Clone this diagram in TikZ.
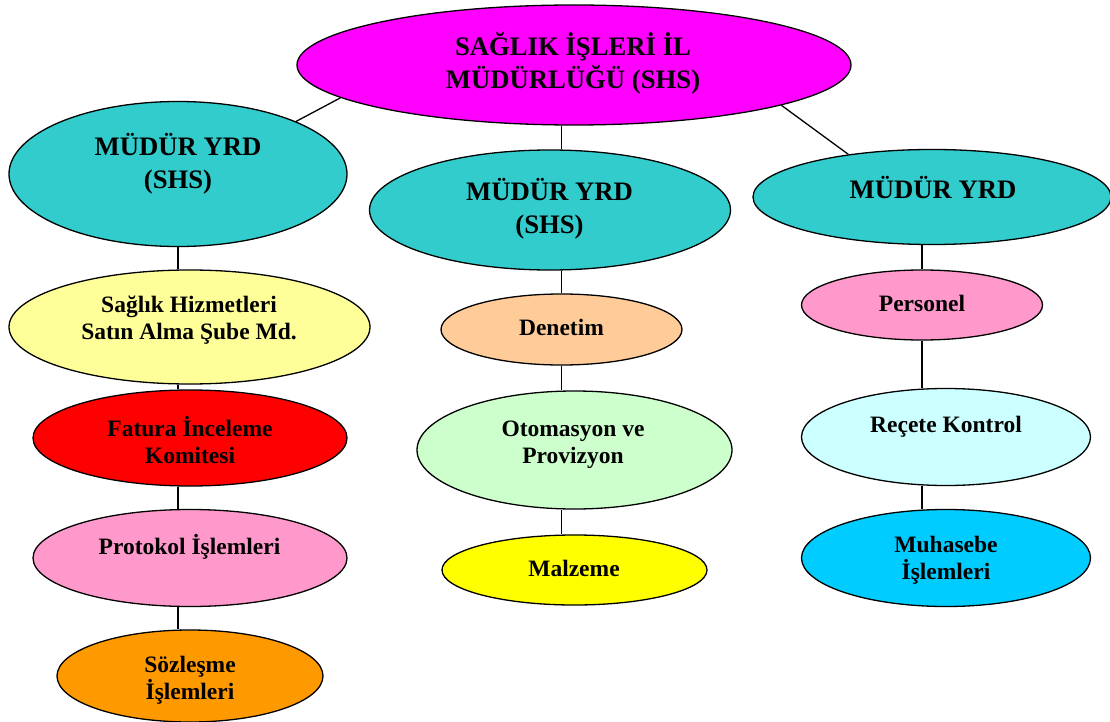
\documentclass[tikz,border=0pt]{standalone}
\usepackage{fontspec}
\setmainfont{Liberation Serif}
\usetikzlibrary{shapes.geometric}
\definecolor{cMag}{HTML}{FF00FF}
\definecolor{cCyan}{HTML}{33CCCC}
\definecolor{cLYel}{HTML}{FFFF99}
\definecolor{cRed}{HTML}{FF0000}
\definecolor{cPink}{HTML}{FF99CC}
\definecolor{cOrange}{HTML}{FF9900}
\definecolor{cPeach}{HTML}{FFCC99}
\definecolor{cLGreen}{HTML}{CCFFCC}
\definecolor{cYel}{HTML}{FFFF00}
\definecolor{cLCyan}{HTML}{CCFFFF}
\definecolor{cSky}{HTML}{00CCFF}
\begin{document}
\begin{tikzpicture}[x=1pt,y=-1pt,
  ell/.style={ellipse, draw=black, line width=1.3pt, inner sep=0pt},
  conn/.style={draw=black, line width=1.3pt},
  big/.style={font=\bfseries\fontsize{26.7}{33}\selectfont, align=center, inner sep=0pt},
  small/.style={font=\bfseries\fontsize{23.5}{27}\selectfont, align=center, inner sep=0pt}]
\useasboundingbox (0,0) rectangle (1110,722);
% ellipses
\node[ell, fill=cMag, minimum width=554pt, minimum height=120pt] (top) at (574,65) {};
\node[ell, fill=cCyan, minimum width=338pt, minimum height=145pt] (lm) at (178,174) {};
\node[ell, fill=cCyan, minimum width=361pt, minimum height=120pt] (mm) at (550,210) {};
\node[ell, fill=cCyan, minimum width=358pt, minimum height=95pt] (rm) at (932,197) {};
\node[ell, fill=cLYel, minimum width=361pt, minimum height=114pt] (yel) at (189.5,327) {};
\node[ell, fill=cRed, minimum width=314pt, minimum height=96pt] (red) at (190,438) {};
\node[ell, fill=cPink, minimum width=314pt, minimum height=97pt] (pro) at (190,558) {};
\node[ell, fill=cOrange, minimum width=266pt, minimum height=92pt] (soz) at (190,676) {};
\node[ell, fill=cPeach, minimum width=241pt, minimum height=71pt] (den) at (561.5,329.5) {};
\node[ell, fill=cLGreen, minimum width=315pt, minimum height=118pt] (oto) at (574.5,450) {};
\node[ell, fill=cYel, minimum width=265pt, minimum height=70pt] (mal) at (574.5,570) {};
\node[ell, fill=cPink, minimum width=241pt, minimum height=70pt] (per) at (922,305) {};
\node[ell, fill=cLCyan, minimum width=289pt, minimum height=97pt] (rec) at (946,437) {};
\node[ell, fill=cSky, minimum width=289pt, minimum height=97pt] (muh) at (946,558) {};
% connectors
\draw[conn] (top.188) -- (lm.24);
\draw[conn] (top.349) -- (rm.153);
\draw[conn] (top.south -| den.north) -- (mm.north -| den.north);
\draw[conn] (lm.south) -- (yel.north -| lm.south);
\draw[conn] (yel.south -| lm.south) -- (red.north -| lm.south);
\draw[conn] (red.south -| lm.south) -- (pro.north -| lm.south);
\draw[conn] (pro.south -| lm.south) -- (soz.north -| lm.south);
\draw[conn] (mm.south -| den.north) -- (den.north);
\draw[conn] (den.south) -- (oto.north -| den.south);
\draw[conn] (oto.south -| den.south) -- (mal.north -| den.south);
\draw[conn] (rm.south -| per.north) -- (per.north);
\draw[conn] (per.south) -- (rec.north -| per.south);
\draw[conn] (rec.south -| per.south) -- (muh.north -| per.south);
% texts
\node[big] (ttop) at (573,63) {SAĞLIK İŞLERİ İL\\MÜDÜRLÜĞÜ (SHS)};
\node[big] (tlm) at (178,163.5) {MÜDÜR YRD\\(SHS)};
\node[big] (tmm) at (549.5,208.5) {MÜDÜR YRD\\(SHS)};
\node[big] (trm) at (933,188) {MÜDÜR YRD};
\node[small] (tyel) at (189,320) {Sağlık Hizmetleri\\Satın Alma Şube Md.};
\node[small] (tred) at (190,440) {Fatura İnceleme\\Komitesi};
\node[small] (tpro) at (189.5,547) {Protokol İşlemleri};
\node[small] (tsoz) at (190,680) {Sözleşme\\İşlemleri};
\node[small] (tden) at (561.5,327) {Denetim};
\node[small] (toto) at (573,445) {Otomasyon ve\\Provizyon};
\node[small] (tmal) at (574,568) {Malzeme};
\node[small] (tper) at (922,303) {Personel};
\node[small] (trec) at (946,427) {Reçete Kontrol};
\node[small] (tmuh) at (946,560) {Muhasebe\\İşlemleri};
\end{tikzpicture}
\end{document}
